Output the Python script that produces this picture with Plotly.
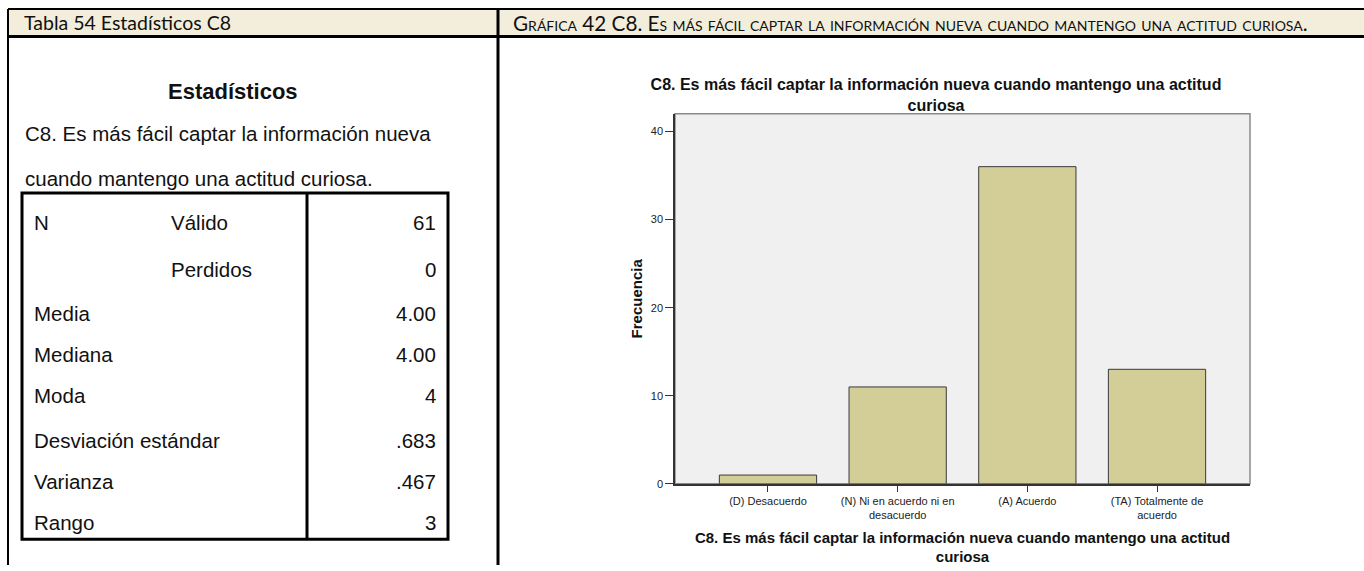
import plotly.graph_objects as go

# Figure size in pixels (the page is photographed at this size)
W, H = 1364, 571

# Chart data
categories = [
    "(D) Desacuerdo",
    "(N) Ni en acuerdo ni en<br>desacuerdo",
    "(A) Acuerdo",
    "(TA) Totalmente de<br>acuerdo",
]
frecuencia = [1, 11, 36, 13]
y_ticks = [0, 10, 20, 30, 40]

# Statistics table (left panel)
stat_labels = ["N", "", "Media", "Mediana", "Moda", "Desviación estándar", "Varianza", "Rango"]
stat_sublabels = ["Válido", "Perdidos", "", "", "", "", "", ""]
stat_values = ["61", "0", "4.00", "4.00", "4", ".683", ".467", "3"]

chart_title = "C8. Es más fácil captar la información nueva cuando mantengo una actitud<br>curiosa"
left_header = "Tabla 54 Estadísticos C8"
right_header = "Gráfica 42 C8. Es más fácil captar la información nueva cuando mantengo una actitud curiosa."

ARIAL = "Liberation Sans, Arial, sans-serif"
CALIBRI = "Lato, Open Sans, sans-serif"


def px(x):
    return x / W


def py(y):
    return 1 - y / H


fig = go.Figure()

fig.add_trace(
    go.Bar(
        x=categories,
        y=frecuencia,
        width=0.75,
        marker=dict(color="#d3ce97", line=dict(color="#3a3a3a", width=1)),
        hoverinfo="skip",
    )
)

fig.update_layout(
    width=W,
    height=H,
    margin=dict(l=0, r=0, t=0, b=0),
    paper_bgcolor="white",
    plot_bgcolor="#f0f0f0",
    showlegend=False,
    font=dict(family=ARIAL, color="#111111"),
    title=dict(
        text=chart_title,
        x=px(936),
        xanchor="center",
        y=py(90),
        yanchor="middle",
        font=dict(family=ARIAL, size=16, color="#111111", weight="bold"),
    ),
)

fig.update_xaxes(
    domain=[px(675), px(1250)],
    range=[-0.717, 3.717],
    showline=True,
    linecolor="#333333",
    linewidth=1.5,
    ticks="outside",
    ticklen=6,
    tickcolor="#333333",
    tickfont=dict(family=ARIAL, size=11, color="#222222"),
    showgrid=False,
    title=dict(
        text="C8. Es más fácil captar la información nueva cuando mantengo una actitud<br>curiosa",
        font=dict(family=ARIAL, size=15, color="#111111", weight="bold"),
        standoff=12,
    ),
)

fig.update_yaxes(
    domain=[py(489), py(115)],
    range=[0, 42],
    tickvals=y_ticks,
    showline=True,
    linecolor="#333333",
    linewidth=1.5,
    ticks="outside",
    ticklen=8,
    tickcolor="#333333",
    tickfont=dict(family=ARIAL, size=11, color="#222222"),
    showgrid=False,
    zeroline=False,
    title=dict(
        text="Frecuencia",
        font=dict(family=ARIAL, size=15, color="#111111", weight="bold"),
        standoff=5,
    ),
)

# Plot frame (grey top and right edges)
fig.add_shape(
    type="rect", xref="x domain", yref="y domain", x0=0, x1=1, y0=0, y1=1,
    line=dict(color="#8a8a8a", width=1.5), layer="below",
)


def hline(x0, x1, y, w):
    fig.add_shape(type="line", xref="paper", yref="paper",
                  x0=px(x0), x1=px(x1), y0=py(y), y1=py(y),
                  line=dict(color="black", width=w))


def vline(x, y0, y1, w):
    fig.add_shape(type="line", xref="paper", yref="paper",
                  x0=px(x), x1=px(x), y0=py(y0), y1=py(y1),
                  line=dict(color="black", width=w))


# Header band of the document table
fig.add_shape(type="rect", xref="paper", yref="paper",
              x0=px(8), x1=px(W), y0=py(9), y1=py(37),
              fillcolor="#f3eedb", line=dict(width=0), layer="below")
hline(8, W, 9, 2)
hline(8, W, 37, 3)
vline(8, 9, H, 2)
vline(498, 9, H, 3)

# Inner statistics box
fig.add_shape(type="rect", xref="paper", yref="paper",
              x0=px(22), x1=px(448), y0=py(195), y1=py(545),
              line=dict(color="black", width=3))
vline(307, 195, 545, 3)


def text(x, y, s, size, anchor="left", family=ARIAL, weight="normal", variant="normal"):
    fig.add_annotation(
        x=px(x), y=py(y), xref="paper", yref="paper", text=s, showarrow=False,
        xanchor=anchor, yanchor="middle",
        font=dict(family=family, size=size, color="#111111", weight=weight, variant=variant),
    )


# Header texts
text(22, 23, left_header, 19.5, family=CALIBRI)
text(511, 23, right_header, 20.7, family=CALIBRI, variant="small-caps")

# Left panel titles
text(233, 92, "Estadísticos", 22, anchor="center", weight="bold")
text(23, 135, "C8. Es más fácil captar la información nueva", 20.5)
text(23, 180, "cuando mantengo una actitud curiosa.", 20.5)

# Table rows
row_y = [225, 272, 317, 358, 400, 445, 487, 528]
for yy, lab, sub, val in zip(row_y, stat_labels, stat_sublabels, stat_values):
    if lab:
        text(32, yy, lab, 20.5)
    if sub:
        text(169, yy, sub, 20.5)
    text(438, yy, val, 20.5, anchor="right")

fig.write_html(
    "out.html",
    config={"displayModeBar": False},
    post_script="document.body.style.margin='0';",
)
